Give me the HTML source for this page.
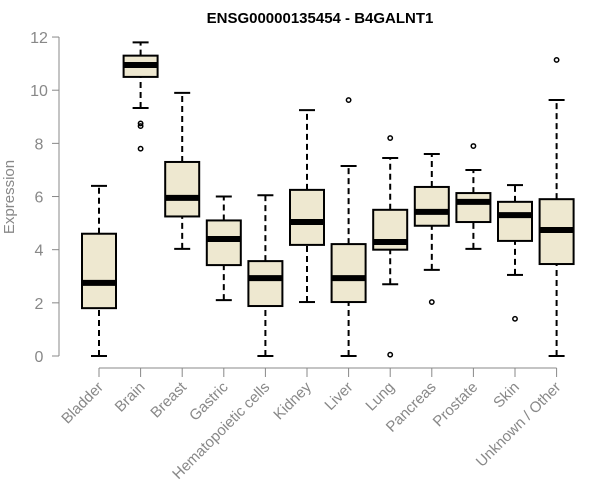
<!DOCTYPE html>
<html><head><meta charset="utf-8"><style>
body{margin:0;background:#fff}
svg{display:block;font-family:"Liberation Sans",Arial,sans-serif}
</style></head><body>
<svg id="chart" width="600" height="500">
<text x="320" y="23" text-anchor="middle" font-weight="bold" font-size="15">ENSG00000135454 - B4GALNT1</text>
<text transform="translate(14,197) rotate(-90)" text-anchor="middle" font-size="15" fill="#888">Expression</text>
<g id="g"></g>
</svg>
<script>
const categories=["Bladder","Brain","Breast","Gastric","Hematopoietic cells","Kidney","Liver","Lung","Pancreas","Prostate","Skin","Unknown / Other"];
const lows=[0,9.33,4.03,2.1,0,2.03,0,2.7,3.24,4.03,3.05,0];
const q1s=[1.8,10.5,5.25,3.42,1.88,4.18,2.03,4.0,4.9,5.04,4.33,3.46];
const medians=[2.75,10.95,5.95,4.4,2.93,5.04,2.93,4.29,5.42,5.8,5.3,4.74];
const q3s=[4.6,11.3,7.3,5.1,3.57,6.25,4.21,5.5,6.36,6.13,5.8,5.9];
const highs=[6.4,11.8,9.9,6.0,6.05,9.25,7.15,7.45,7.6,7.0,6.43,9.63];
const outliers=[[],[8.75,8.65,7.8],[],[],[],[],[9.63],[8.2,0.05],[2.03],[7.9],[1.4],[11.14]];
const yTicks=[0,2,4,6,8,10,12];
const NS="http://www.w3.org/2000/svg";
const g=document.getElementById('g');
const y=v=>356-v*26.58;
const x=i=>99+i*41.6;
function mk(t,a,p){const e=document.createElementNS(NS,t);for(const k in a)e.setAttribute(k,a[k]);(p||g).appendChild(e);return e;}
let ax=mk('line',{x1:59,x2:59,y1:y(0),y2:y(12),stroke:'#888'});


yTicks.forEach(v=>{
 let t=mk('line',{x1:52,x2:59,y1:y(v),y2:y(v),stroke:'#888'});
 
 
 let l=mk('text',{x:39,y:y(v)+6,'text-anchor':'middle','font-size':16,fill:'#888'});
 l.textContent=v;
 
 
});
let xa=mk('line',{x1:x(0),x2:x(11),y1:368,y2:368,stroke:'#888'});


categories.forEach((c,i)=>{
 const cx=x(i),w=34;
 let tk=mk('line',{x1:cx,x2:cx,y1:368,y2:377,stroke:'#888'});
 
 
 let lb=mk('text',{transform:`translate(${cx+5},${388}) rotate(-45)`,'text-anchor':'end','font-size':15,fill:'#888'});
 lb.textContent=c;
 
 
 const grp=mk('g',{});
 
 
 mk('line',{x1:cx,x2:cx,y1:y(lows[i]),y2:y(q1s[i]),stroke:'#000','stroke-width':2,'stroke-dasharray':'6,4'},grp);
 mk('line',{x1:cx,x2:cx,y1:y(q3s[i]),y2:y(highs[i]),stroke:'#000','stroke-width':2,'stroke-dasharray':'6,4'},grp);
 mk('line',{x1:cx-8,x2:cx+8,y1:y(lows[i]),y2:y(lows[i]),stroke:'#000','stroke-width':2},grp);
 mk('line',{x1:cx-8,x2:cx+8,y1:y(highs[i]),y2:y(highs[i]),stroke:'#000','stroke-width':2},grp);
 mk('rect',{x:cx-w/2,y:y(q3s[i]),width:w,height:y(q1s[i])-y(q3s[i]),fill:'#EEE8D0',stroke:'#000','stroke-width':2},grp);
 mk('line',{x1:cx-w/2,x2:cx+w/2,y1:y(medians[i]),y2:y(medians[i]),stroke:'#000','stroke-width':6},grp);
 outliers[i].forEach(o=>{
  let p=mk('circle',{cx:cx,cy:y(o),r:2.2,fill:'none',stroke:'#000','stroke-width':1.5},grp);
  
  
 });
});
</script>
</body></html>
